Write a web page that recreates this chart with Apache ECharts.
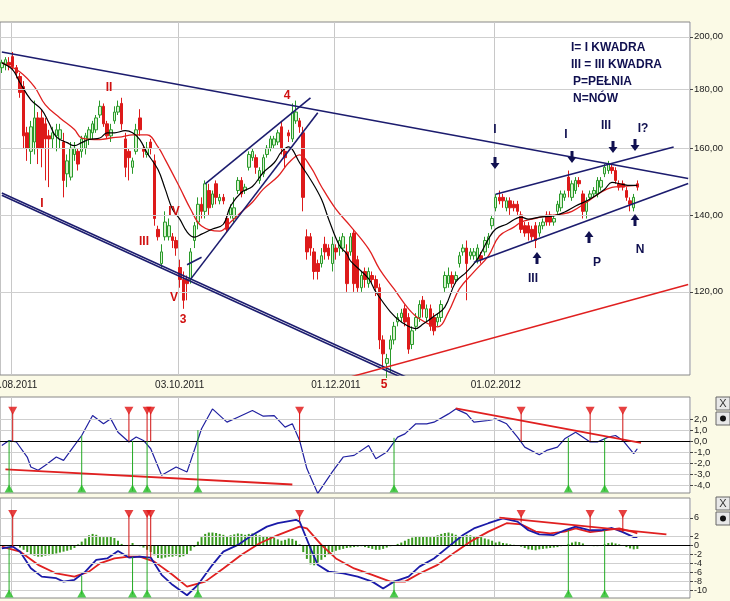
<!DOCTYPE html>
<html><head><meta charset="utf-8">
<script src="https://cdn.jsdelivr.net/npm/echarts@6/dist/echarts.min.js"></script>
<style>html,body{margin:0;padding:0;background:#fbfae6}#c{width:730px;height:601px}</style>
</head><body><div id="c"></div>
<script>
// ---- DATA ----
const candles = [ // [open, close, low, high]
[188,190,186,191],[189,191,187,192],[190,189,187,192],[192.2,188.4,187,194],[188,186,184,189],
[184.7,178.9,177,186],[181,164,160,183],[165,160,156,167],[159,167,155,169],[162,170,158,176],
[170,160,155,172],[170,160,154,173],[168,163,150,170],[164,163,148,166],[163,165,160,167],
[164,166,159,168],[163,166,160,168],[162,150,145,165],[152,156,148,158],
[151,160,150,162],[158,160,156,162],[159,155,153,160],[159,163,157,164],[160,164,158,165],
[163,166,161,167],[165,168,163,169],[166,170,165,171],[171,174,170,176],[174,168,167,175],
[168,164,163,169],[164,166,162,168],[169,172,168,174],[172,174,171,176],
[175,168,166,177],[163,154,151,165],[159,157,150,160],[154,156,152,157],[159,166,158,168],
[170,166,164,173],[160,159,157,161],[158,160,157,162],[162,160,158,163],[156,139,137,158],
[136,134,133,137],[127,130,126,132],[134,138,133,141],[134,137,133,139],[134,133,131,135],
[133,131,129,134],[126,123,121,128],[123,118,116,125],[123,122,118,124],[123,130,122,131],
[133,137,131,138],[138,143,136,145],[143,141,139,145],[141,149,139,150],[147,142,140,149],
[143,146,142,147],[149,145,143,150],[144,145,143,146],[145,144,143,146],[139,136,135,140],[140,142,139,143],
[139,142,138,145],[147,150,146,151],[150,146,145,151],[147,148,146,149],[154,158,153,159],
[157,159,156,160],[157,154,152,158],[150,153,149,154],[152,157,151,158],[158,160,157,161],[160,163,159,164],
[161,163,160,164],[162,165,161,166],[167,160,158,169],[159,157,154,160],[165,164,162,166],
[163,172,162,175],[169,172,168,176],[169,167,165,170],[165,145,141,167],[134,130,128,136],
[134,131,129,135],[130,125,123,131],[127,125,123,128],[127,129,126,131],[132,130,128,134],
[131,129,128,132],[127,132,125,134],[131,130,128,132],[131,133,129,134],[131,134,130,135],
[130,122,120,132],[130,134,129,135],[135,122,120,136],[128,121,120,129],[121,124,120,125],
[125,123,121,126],[122,125,121,126],[124,123,122,125],[123,121,119,124],[121,109,107,122],
[109,106,103,110],[104,105,101,106],[107,109,102,110],[109,112,108,113],[113,114,112,115],
[114,115,113,116],[116,113,112,117],[114,107,106,115],[108,111,107,112],[112,114,111,115],
[114,117,113,118],[118,116,114,119],[114,116,113,117],[116,112,111,117],[114,111,110,115],
[113,114,112,115],[114,117,113,118],[121,124,120,125],[122,124,121,126],[124,122,121,125],
[123,124,122,125],[127,129,126,130],[130,131,129,132],[131,127,118,133],[129,130,128,131],
[129,130,128,131],[128,131,127,132],[129,128,127,130],[130,133,129,134],[132,134,131,135],
[137,139,136,140],[142,145,141,146],[145,144,143,147],[145,144,142,146],[142,144,141,145],
[144,142,140,145],[143,142,141,144],[143,141,140,144],[140,136,135,141],[137,135,134,138],
[137,135,133,138],[136,134,133,137],[137,133,131,138],[135,137,134,138],[137,138,136,139],
[140,138,137,141],[140,138,137,141],[138,139,137,140],[141,143,140,144],[142,146,141,147],
[145,146,144,147],[151,147,145,153],[145,149,144,150],[147,150,146,151],[150,149,148,151],
[146,141,139,147],[141,144,139,145],[145,146,144,147],[146,147,145,148],[146,150,145,151],
[148,150,147,151],[152,154,151,155],[153,155,152,156],[154,153,152,155],[153,150,149,154],
[149,148,147,150],[149,148,147,150],[147,145,144,148],[144,143,141,145],[142,145,141,146],
[149,148,147,150]
];
const maBlack = [[0,189.8],[3,187.2],[5,182.4],[8,176.3],[11,172.8],[13,168.3],[15,163.7],[18,161.8],[20,160.8],[22,161.8],[24,162.8],[27,163.3],[29,165.0],[31,165.0],[34,165.7],[36,165.0],[38,162.8],[40,158.5],[43,153.3],[45,147.4],[47,141.6],[49,138.8],[51,135.3],[53,133.9],[55,134.7],[58,136.1],[61,137.4],[63,142.5],[66,146.5],[69,148.2],[72,152.4],[75,155.4],[77,158.8],[79,160.4],[80,159.6],[82,155.4],[85,150.3],[88,144.5],[90,138.8],[93,131.6],[95,129.5],[96,127.7],[101,123.2],[103,120.0],[107,115.3],[110,113.0],[114,111.5],[116,112.5],[119,114.3],[122,116.4],[125,122.4],[128,124.9],[131,128.2],[134,133.4],[136,136.1],[139,137.4],[143,139.4],[145,138.8],[148,139.4],[152,139.7],[155,140.8],[158,142.5],[162,144.5],[166,147.4],[168,149.4],[171,148.8],[173,148.5],[175,148.5]];
const maRed = [[0,189.8],[5,186.4],[9,180.9],[12,174.5],[16,170.0],[20,166.1],[22,163.3],[27,162.8],[30,163.3],[33,163.7],[36,164.3],[40,164.3],[43,160.4],[45,156.4],[49,147.9],[52,141.6],[55,136.9],[60,135.5],[63,138.0],[66,140.8],[69,143.6],[72,147.4],[76,151.2],[79,155.4],[82,157.9],[85,154.2],[88,148.2],[92,141.6],[96,136.9],[101,130.8],[104,125.6],[108,120.7],[112,116.0],[115,113.7],[120,111.9],[123,115.3],[126,120.7],[130,124.9],[134,129.0],[137,134.2],[141,136.6],[143,138.0],[146,138.8],[150,139.7],[154,140.2],[157,141.0],[161,143.6],[165,146.5],[168,147.9],[171,148.2],[175,148.5]];
const trendNavy = [
  [[0,194.0],[189,150.6]],
  [[0,146.3],[121,98]],
  [[0,145.6],[121,97.5]],
  [[52,123.1],[87,171.8]],
  [[56,149.0],[85,177.0]],
  [[51,126.7],[55,128.6]],
  [[136,145.9],[185,160.4]],
  [[130,127.3],[189,149.1]]
];
const trendRed = [[93,100.6],[189,121.8]];
const osc = [[0,-0.39],[2,0.06],[4,-0.08],[7,-1.44],[8,-2.34],[10,-2.64],[12,-2.19],[15,-1.44],[17,-1.74],[19,-0.84],[22,0.51],[25,2.32],[28,1.57],[30,2.02],[32,0.81],[35,-0.08],[37,0.37],[39,0.06],[41,-0.69],[44,-3.09],[48,-2.34],[51,-2.79],[55,1.12],[58,2.92],[62,1.72],[65,2.17],[69,2.77],[72,2.26],[75,2.32],[78,1.27],[80,1.57],[82,0.06],[84,-2.49],[87,-4.74],[91,-2.79],[94,-1.44],[97,-1.29],[101,-0.39],[103,-1.59],[106,-0.99],[109,0.36],[111,0.66],[114,1.57],[117,1.57],[119,1.72],[123,2.47],[125,2.92],[128,2.47],[130,1.72],[134,1.87],[136,2.02],[139,1.57],[142,0.36],[144,-0.54],[148,-1.23],[150,-0.84],[153,-0.54],[155,0.21],[158,0.81],[162,-0.08],[164,-0.08],[167,0.36],[169,0.51],[171,0.06],[174,-1.14],[175,-0.69]];
const oscTrends = [[[1,-2.55],[80,-3.93]],[[125,2.97],[176,-0.15]]];
const macd = [[0,-0.66],[3,-0.29],[5,-1.39],[8,-5.05],[11,-6.9],[15,-7.25],[17,-8.0],[20,-7.6],[23,-5.8],[26,-3.2],[29,-2.9],[32,-1.25],[35,-2.7],[38,-2.5],[41,-2.7],[44,-6.5],[47,-8.7],[51,-11.0],[54,-8.7],[58,-4.3],[61,-1.4],[65,0.08],[69,2.25],[73,4.1],[76,4.85],[81,5.6],[82,5.2],[85,-0.66],[87,-4.3],[90,-5.8],[94,-6.2],[98,-6.9],[102,-8.0],[105,-9.5],[108,-8.0],[112,-6.9],[115,-4.7],[119,-2.9],[123,-0.3],[127,2.25],[130,3.7],[134,4.85],[138,5.9],[142,5.2],[145,3.3],[148,2.4],[152,2.25],[155,3.3],[158,4.1],[162,3.3],[165,3.3],[168,3.8],[171,2.9],[174,1.8],[175,1.8]];
const macdSignal = [[0,-0.29],[5,-1.39],[10,-4.3],[15,-6.2],[20,-6.9],[24,-5.8],[27,-4.0],[31,-2.9],[35,-2.5],[38,-2.5],[42,-3.6],[47,-6.5],[51,-9.1],[56,-8.0],[61,-5.1],[66,-2.1],[71,0.45],[76,2.25],[82,4.1],[84,3.7],[88,0.08],[92,-2.9],[97,-5.1],[102,-6.5],[107,-8.0],[111,-8.0],[115,-6.2],[120,-4.3],[125,-1.4],[129,0.8],[134,3.0],[139,4.85],[143,4.6],[147,3.0],[151,2.6],[155,3.0],[158,3.7],[162,2.9],[166,3.3],[170,3.7],[174,2.9],[175,2.6]];
const macdHist = [0,0,0,0,0,
-0.5,-1,-1.5,-2,-2.3,-2.5,-2.5,-2.3,-2.2,-2,-1.8,-1.6,-1.4,-1.2,-1,-0.6,
0.2,
0.8,1.5,2.2,2.5,2.3,2.0,1.8,1.8,2.0,1.6,1.0,0.3,
0,0,0.5,0,
-0.2,-0.5,-1.0,-1.5,
-2.2,-2.8,-2.9,-2.7,-2.5,-2.5,-2.3,-2.6,-2.4,-2.0,-1.2,
-0.4,
0.8,1.8,2.5,2.8,2.8,2.7,2.5,2.3,2.0,2.2,2.4,2.6,2.5,2.3,2.5,2.6,2.4,2.2,2.0,2.0,1.8,1.6,1.3,1.0,1.2,1.5,1.4,1.0,
0.2,
-1.5,-3.0,-4.2,-4.4,-3.8,-3.2,-2.6,-2.0,-1.5,
-1.2,-1.0,-0.8,-0.6,-0.5,-0.4,-0.3,-0.2,-0.4,-0.6,-0.8,-1.0,-1.0,-0.8,-0.5,-0.2,0,
0.3,0.6,1.0,1.4,1.7,1.9,2.0,2.0,1.9,1.8,2.0,2.2,2.5,2.7,2.8,2.6,2.3,2.0,2.1,2.3,2.2,2.0,2.0,1.8,1.5,1.3,1.0,0.6,
0.8,0.5,0.4,0.2,0.1,0,
-0.3,-0.6,-0.9,-1.0,-1.1,-0.9,-0.8,-0.7,-0.6,-0.5,-0.4,
-0.2,0,
0.3,0.6,0.8,0.7,0.4,
0,-0.1,-0.2,-0.2,0,
0.2,0.5,0.6,0.4,0.2,0,
-0.4,-0.7,-0.9,-0.8];
const macdTrend = [[137,6.1],[183,2.4]];
const sellIdx = [3,35,40,41,82,143,162,171];
const buyIdx = [2,22,36,40,54,108,156,166];
const macdAtSell = [-0.3,-2.7,-2.6,-2.7,5.2,5.0,3.3,2.9];
const macdAtBuy = [-0.5,-6.7,-2.6,-2.6,-8.7,-8.0,3.3,3.3];
const oscAtBuy = [0.06,0.5,0,0,1.0,0.3,0.3,0.3];
const dateTicks = {3:'01.08.2011',49:'03.10.2011',92:'01.12.2011',136:'01.02.2012'};
const priceTicks = [120,140,160,180,200];
const oscTicks = [-4,-3,-2,-1,0,1,2];
const macdTicks = [6,2,0,-2,-4,-6,-8,-10];
const NCAT = 190;
const categories = Array.from({length:NCAT},(_, i)=>String(i));

// ---- CHART ----
const NAVY='#1c1c6e', RED='#e02020', GREEN='#2a9a2a', FONT='Liberation Sans, Arial, sans-serif';
const isTick = i => dateTicks[i] !== undefined;
function xAxisDef(idx, showLabel){
  return {type:'category', gridIndex:idx, data:categories, boundaryGap:true,
    axisLine:{show:false}, axisTick:{show:false},
    axisLabel:{show:showLabel, interval:(i)=>isTick(i), formatter:(v)=>dateTicks[+v]||'', color:'#222', fontSize:10, fontFamily:FONT, margin:5, hideOverlap:false},
    splitLine:{show:true, interval:(i)=>isTick(i), lineStyle:{color:'#c8c8c8'}}};
}
const fmt2 = v => v.toFixed(2).replace('.',',');
const fmt1 = v => v.toFixed(1).replace('.',',');
function yAxisDef(idx, type, min, max, ticks, f, fs){
  return {type:type, logBase:10, gridIndex:idx, min:min, max:max, position:'right', scale:true,
    axisLine:{show:false}, splitLine:{show:false},
    axisTick:{show:true, customValues:ticks, length:3, lineStyle:{color:'#444'}},
    axisLabel:{customValues:ticks, formatter:f, color:'#222', fontSize:fs||9.5, fontFamily:FONT, margin:4, hideOverlap:false, showMinLabel:true, showMaxLabel:true}};
}
function gridLines(vals, zero){
  return {silent:true, symbol:'none', label:{show:false}, animation:false,
    data: vals.map(v=>({yAxis:v, lineStyle:{color: (zero && v===0)?'#000':'#cfcfcf', width:1, type:'solid'}}))};
}
const series = [];
series.push({type:'candlestick', xAxisIndex:0, yAxisIndex:0, data:candles, barWidth:3,
  itemStyle:{color:'#d8f3d0', color0:'#dd1a1a', borderColor:GREEN, borderColor0:'#dd1a1a', borderWidth:1},
  markLine: gridLines(priceTicks,false), z:3});
series.push({type:'line', xAxisIndex:0, yAxisIndex:0, data:maRed, showSymbol:false, smooth:0.4, lineStyle:{color:RED, width:1.3}, z:4});
series.push({type:'line', xAxisIndex:0, yAxisIndex:0, data:maBlack, showSymbol:false, smooth:0.4, lineStyle:{color:'#000', width:1.2}, z:4});
trendNavy.forEach(t=>series.push({type:'line', xAxisIndex:0, yAxisIndex:0, data:t, showSymbol:false, lineStyle:{color:NAVY, width:1.6}, z:5, clip:true}));
series.push({type:'line', xAxisIndex:0, yAxisIndex:0, data:trendRed, showSymbol:false, lineStyle:{color:RED, width:1.5}, z:5, clip:true});
// panel 2
series.push({type:'line', xAxisIndex:1, yAxisIndex:1, data:osc, showSymbol:false, smooth:false, lineStyle:{color:'#2020a0', width:1.2, type:'solid'}, markLine:gridLines(oscTicks,true), z:4});
oscTrends.forEach(t=>series.push({type:'line', xAxisIndex:1, yAxisIndex:1, data:t, showSymbol:false, lineStyle:{color:RED, width:1.8}, z:5}));
// panel 3
series.push({type:'bar', xAxisIndex:2, yAxisIndex:2, data:macdHist, barWidth:2, itemStyle:{color:'#3a9a20'}, markLine:gridLines(macdTicks,true), z:3});
series.push({type:'line', xAxisIndex:2, yAxisIndex:2, data:macdSignal, showSymbol:false, smooth:false, lineStyle:{color:RED, width:1.8}, z:4});
series.push({type:'line', xAxisIndex:2, yAxisIndex:2, data:macd, showSymbol:false, smooth:false, lineStyle:{color:'#1a1aa8', width:1.8}, z:4});
series.push({type:'line', xAxisIndex:2, yAxisIndex:2, data:macdTrend, showSymbol:false, lineStyle:{color:RED, width:1.8}, z:5});
// signals
function vseg(ax, i, a, b, color){
  series.push({type:'line', xAxisIndex:ax, yAxisIndex:ax, data:[[i,a],[i,b]], showSymbol:false, lineStyle:{color:color, width:1}, z:6, silent:true});
}
sellIdx.forEach((i,k)=>{ vseg(1,i,2.6,0,'#d01010'); vseg(2,i,6.7,macdAtSell[k],'#d01010'); });
buyIdx.forEach((i,k)=>{ vseg(1,i,-4.5,oscAtBuy[k],'#22aa22'); vseg(2,i,-10.8,macdAtBuy[k],'#22aa22'); });
series.push({type:'scatter', xAxisIndex:1, yAxisIndex:1, data:sellIdx.map(i=>[i,2.75]), symbol:'triangle', symbolRotate:180, symbolSize:[9,8], itemStyle:{color:'#e01010'}, z:7});
series.push({type:'scatter', xAxisIndex:2, yAxisIndex:2, data:sellIdx.map(i=>[i,6.9]), symbol:'triangle', symbolRotate:180, symbolSize:[9,8], itemStyle:{color:'#e01010'}, z:7});
series.push({type:'scatter', xAxisIndex:1, yAxisIndex:1, data:buyIdx.map(i=>[i,-4.3]), symbol:'triangle', symbolSize:[9,8], itemStyle:{color:'#22bb22'}, z:7});
series.push({type:'scatter', xAxisIndex:2, yAxisIndex:2, data:buyIdx.map(i=>[i,-10.6]), symbol:'triangle', symbolSize:[9,8], itemStyle:{color:'#22bb22'}, z:7});

// annotations
const g = [];
function txt(x,y,t,color,size,align){ g.push({type:'text', x:x, y:y, z:100, style:{text:t, fill:color, font:'bold '+(size||12)+'px '+FONT, textAlign:align||'center', textVerticalAlign:'middle'}}); }
function arrow(cx,cy,down){
  const s = down?1:-1;
  g.push({type:'polygon', z:100, shape:{points:[[cx-1.5,cy-6*s],[cx+1.5,cy-6*s],[cx+1.5,cy],[cx+4.5,cy],[cx,cy+6*s],[cx-4.5,cy],[cx-1.5,cy]]}, style:{fill:'#101050'}});
}
['I= I KWADRA','III = III KWADRA'].forEach((t,k)=>txt(571,48+k*17,t,'#101050',12,'left'));
txt(573,82,'P=PEŁNIA','#101050',12,'left'); txt(573,99,'N=NÓW','#101050',12,'left');
txt(495,130,'I','#101050'); arrow(495,163,true);
txt(566,135,'I','#101050'); arrow(572,157,true);
txt(606,126,'III','#101050'); arrow(613,147,true);
txt(643,129,'I?','#101050'); arrow(635,145,true);
arrow(537,258,false); txt(533,279,'III','#101050');
arrow(589,237,false); txt(597,263,'P','#101050');
arrow(635,220,false); txt(640,250,'N','#101050');
const RL='#d01010';
txt(109,88,'II',RL); txt(42,204,'I',RL); txt(144,242,'III',RL); txt(174,212,'IV',RL);
txt(174,298,'V',RL); txt(183,320,'3',RL); txt(287,96,'4',RL); txt(384,385,'5',RL);
// side buttons
[397,497].forEach(y=>{
  g.push({type:'rect', z:100, shape:{x:716,y:y,width:14,height:13}, style:{fill:'#e8e8e8', stroke:'#666'}});
  g.push({type:'text', z:101, x:723, y:y+7, style:{text:'X', fill:'#333', font:'11px '+FONT, textAlign:'center', textVerticalAlign:'middle'}});
  g.push({type:'rect', z:100, shape:{x:716,y:y+15,width:14,height:13}, style:{fill:'#e8e8e8', stroke:'#666'}});
  g.push({type:'circle', z:101, shape:{cx:723,cy:y+21.5,r:3}, style:{fill:'#111'}});
});

const chart = echarts.init(document.getElementById('c'));
const gridBase = {left:0, width:690, show:true, backgroundColor:'#fff', borderColor:'#888', containLabel:false, outerBoundsMode:'none'};
chart.setOption({
  animation:false, backgroundColor:'#fbfae6',
  grid:[
    Object.assign({top:22, height:353}, gridBase),
    Object.assign({top:397, height:96}, gridBase),
    Object.assign({top:498, height:100}, gridBase)
  ],
  xAxis:[xAxisDef(0,true), xAxisDef(1,false), xAxisDef(2,false)],
  yAxis:[
    yAxisDef(0,'log',101.6,206,priceTicks,fmt2),
    yAxisDef(1,'value',-4.7,4,oscTicks,fmt1),
    yAxisDef(2,'value',-11.6,10.4,macdTicks,v=>String(v),9)
  ],
  series:series,
  graphic:g
});
</script></body></html>
